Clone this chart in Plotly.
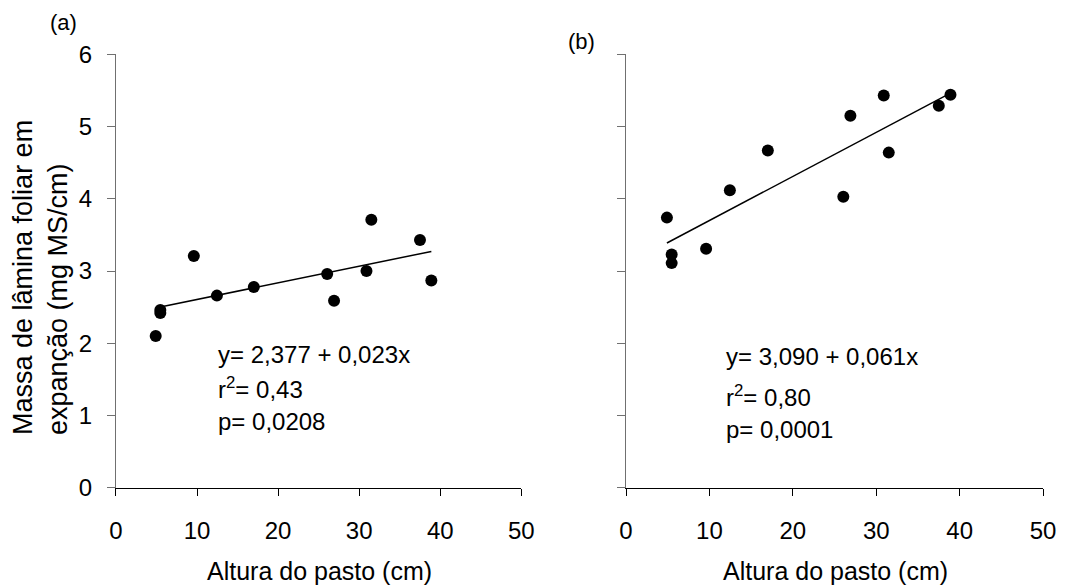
import plotly.graph_objects as go

# Data
altura = [4.9, 5.47, 5.47, 9.6, 12.45, 17.0, 26.05, 26.9, 30.9, 31.5, 37.5, 38.9]
massa_a = [2.10, 2.46, 2.42, 3.21, 2.66, 2.78, 2.96, 2.59, 3.00, 3.71, 3.43, 2.87]
massa_b = [3.74, 3.23, 3.11, 3.31, 4.12, 4.67, 4.03, 5.15, 5.43, 4.64, 5.29, 5.44]

coef_a = (2.377, 0.023)
coef_b = (3.090, 0.061)
line_a_x = [5.47, 38.9]
line_b_x = [4.9, 38.9]

eq_a_lines = ["y= 2,377 + 0,023x", "r<sup>2</sup>= 0,43", "p= 0,0208"]
eq_b_lines = ["y= 3,090 + 0,061x", "r<sup>2</sup>= 0,80", "p= 0,0001"]

x_ticks = [0, 10, 20, 30, 40, 50]
y_ticks = [0, 1, 2, 3, 4, 5, 6]

FONT = "Liberation Sans, Arial, sans-serif"

fig = go.Figure()

fig.add_trace(go.Scatter(x=altura, y=massa_a, mode="markers",
                         marker=dict(color="black", size=12), xaxis="x", yaxis="y",
                         showlegend=False, cliponaxis=False))
fig.add_trace(go.Scatter(x=line_a_x, y=[coef_a[0] + coef_a[1] * v for v in line_a_x],
                         mode="lines", line=dict(color="black", width=1.5),
                         xaxis="x", yaxis="y", showlegend=False))
fig.add_trace(go.Scatter(x=altura, y=massa_b, mode="markers",
                         marker=dict(color="black", size=12), xaxis="x2", yaxis="y2",
                         showlegend=False, cliponaxis=False))
fig.add_trace(go.Scatter(x=line_b_x, y=[coef_b[0] + coef_b[1] * v for v in line_b_x],
                         mode="lines", line=dict(color="black", width=1.5),
                         xaxis="x2", yaxis="y2", showlegend=False))

xaxis_common = dict(range=[0, 50], tickvals=x_ticks, ticks="outside", ticklen=7,
                    tickcolor="black", tickwidth=1.3, showline=True, linecolor="black",
                    linewidth=1.3, showgrid=False, zeroline=False, automargin=False,
                    tickfont=dict(family=FONT, size=24, color="black"),
                    ticklabelstandoff=14, fixedrange=True)
yaxis_common = dict(range=[0, 6], tickvals=y_ticks, ticks="outside", ticklen=8,
                    tickcolor="#707070", tickwidth=1.3, showline=True, linecolor="#707070",
                    linewidth=1.3, showgrid=False, zeroline=False, automargin=False,
                    tickfont=dict(family=FONT, size=24, color="black"),
                    ticklabelstandoff=10, fixedrange=True)

ydom = [0.1705, 0.9075]
fig.update_layout(
    width=1082, height=588, autosize=False,
    margin=dict(l=0, r=0, t=0, b=0, pad=0, autoexpand=False),
    paper_bgcolor="white", plot_bgcolor="white",
    showlegend=False,
    font=dict(family=FONT, color="black"),
    xaxis=dict(domain=[0.1072, 0.4818], anchor="y", **xaxis_common),
    yaxis=dict(domain=ydom, anchor="x", showticklabels=True, **yaxis_common),
    xaxis2=dict(domain=[0.5786, 0.9640], anchor="y2", **xaxis_common),
    yaxis2=dict(domain=ydom, anchor="x2", showticklabels=False, **yaxis_common),
)


def txt(text, px, py, size=24, xanchor="left", angle=0):
    return dict(text=text, x=px / 1082, y=1 - py / 588, xref="paper", yref="paper",
                xanchor=xanchor, yanchor="middle", align="left", showarrow=False,
                textangle=angle, font=dict(family=FONT, size=size, color="black"))


annotations = []
for line, py in zip(eq_a_lines, [354, 388, 421]):
    annotations.append(txt(line, 216, py))
for line, py in zip(eq_b_lines, [356, 396, 429]):
    annotations.append(txt(line, 724, py))
annotations += [
    txt("(a)", 63, 22, size=22, xanchor="center"),
    txt("(b)", 581, 41, size=22, xanchor="center"),
    txt("Altura do pasto (cm)", 319, 571, size=25, xanchor="center"),
    txt("Altura do pasto (cm)", 835, 571, size=25, xanchor="center"),
    txt("Massa de lâmina foliar em<br>expanção (mg MS/cm)", 40, 278, size=27,
        xanchor="center", angle=-90),
]
fig.update_layout(annotations=annotations)

fig.write_html("out.html")
